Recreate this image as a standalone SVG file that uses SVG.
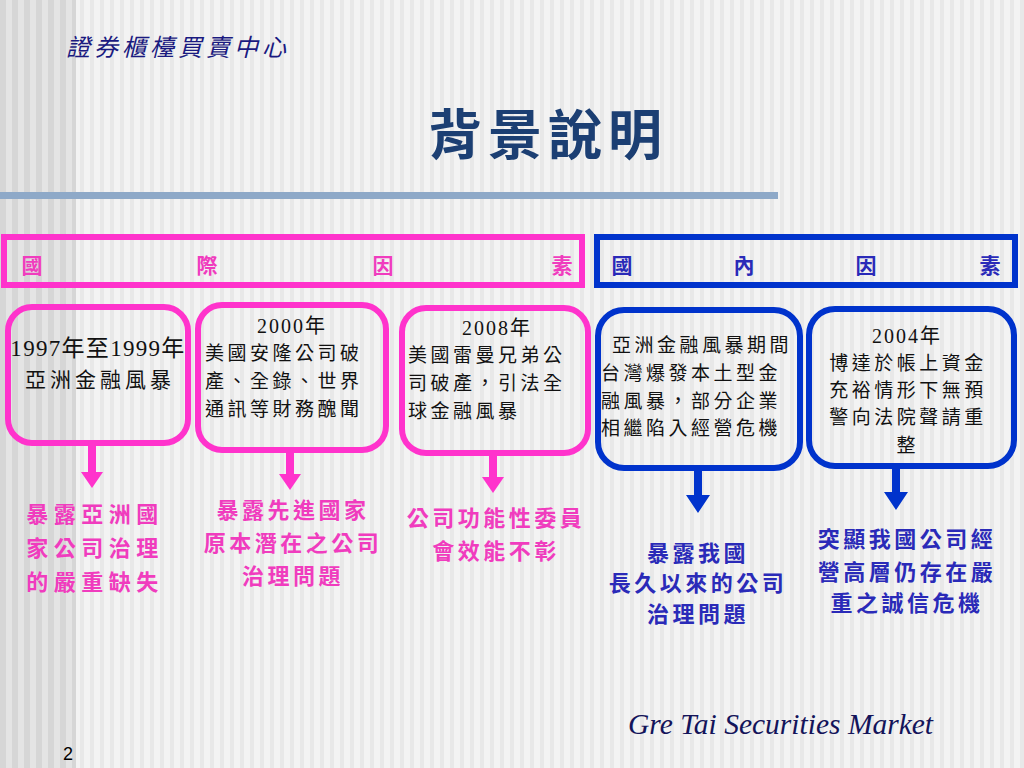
<svg xmlns="http://www.w3.org/2000/svg" width="1024" height="768" viewBox="0 0 1024 768">
<defs>
<pattern id="stripes" x="0" y="0" width="10" height="768" patternUnits="userSpaceOnUse">
<rect x="0" y="0" width="10" height="768" fill="#f3f3f3"/>
<rect x="0" y="0" width="4" height="768" fill="#e8e8e8"/>
</pattern>
<pattern id="stripesDark" x="0" y="0" width="12" height="768" patternUnits="userSpaceOnUse">
<rect x="0" y="0" width="12" height="768" fill="#e4e4e4"/>
<rect x="0" y="0" width="6" height="768" fill="#d6d6d6"/>
</pattern>
<style>
.cjk{font-family:"Liberation Serif","Noto Sans CJK TC",serif;fill:#111;font-size:19px}
.sp{letter-spacing:3.5px}
.yr{font-size:20px;letter-spacing:2px}
.res{font-family:"Noto Sans CJK TC",sans-serif;font-weight:bold;font-size:22px;letter-spacing:3.5px;text-anchor:middle}
.pinkT{fill:#f03cbe}
.blueT{fill:#2a2ab8}
.pinkBox{fill:none;stroke:#ff33cc;stroke-width:6}
.blueBox{fill:none;stroke:#0033cc;stroke-width:6}
.hdr{font-family:"Noto Sans CJK TC",sans-serif;font-weight:bold;font-size:21px;text-anchor:middle}
</style>
</defs>
<rect x="0" y="0" width="1024" height="768" fill="url(#stripes)"/>
<rect x="0" y="0" width="76" height="768" fill="url(#stripesDark)"/>
<text x="66" y="56" font-family="'Liberation Serif','Noto Sans CJK TC',serif" font-style="italic" font-size="24" fill="#1a1a80" letter-spacing="4">證券櫃檯買賣中心</text>
<text x="548" y="155" font-family="'Noto Sans CJK TC',sans-serif" font-weight="bold" font-size="54" fill="#1c3f73" text-anchor="middle" letter-spacing="6">背景說明</text>
<rect x="0" y="192" width="778" height="7" fill="#8ea9c8"/>
<g id="header-intl">
<rect x="4" y="237" width="578" height="48" class="pinkBox"/>
<text class="hdr pinkT" x="32" y="273">國</text>
<text class="hdr pinkT" x="207" y="273">際</text>
<text class="hdr pinkT" x="383" y="273">因</text>
<text class="hdr pinkT" x="562" y="273">素</text>
</g>
<g id="header-dom">
<rect x="597" y="237" width="418" height="48" class="blueBox"/>
<text class="hdr blueT" x="622" y="273">國</text>
<text class="hdr blueT" x="744" y="273">內</text>
<text class="hdr blueT" x="866" y="273">因</text>
<text class="hdr blueT" x="990" y="273">素</text>
</g>
<g id="node1">
<rect x="8" y="307" width="180" height="136" rx="24" class="pinkBox"/>
<text class="cjk" x="98" y="356" text-anchor="middle" style="font-size:23px;letter-spacing:1.3px">1997年至1999年</text>
<text class="cjk" x="100" y="387" text-anchor="middle" style="font-size:21px;letter-spacing:4px">亞洲金融風暴</text>
</g>
<g id="node2">
<rect x="198" y="305" width="188" height="145" rx="24" class="pinkBox"/>
<text class="cjk yr" x="292" y="333" text-anchor="middle">2000年</text>
<text class="cjk sp" x="205" y="360">美國安隆公司破</text>
<text class="cjk sp" x="205" y="388">產、全錄、世界</text>
<text class="cjk sp" x="205" y="416">通訊等財務醜聞</text>
</g>
<g id="node3">
<rect x="402" y="308" width="186" height="145" rx="24" class="pinkBox"/>
<text class="cjk yr" x="497" y="335" text-anchor="middle">2008年</text>
<text class="cjk sp" x="408" y="362">美國雷曼兄弟公</text>
<text class="cjk sp" x="408" y="390">司破產，引法全</text>
<text class="cjk sp" x="408" y="418">球金融風暴</text>
</g>
<g id="node4">
<rect x="598" y="310" width="202" height="158" rx="26" class="blueBox"/>
<text class="cjk sp" x="612" y="352">亞洲金融風暴期間</text>
<text class="cjk sp" x="601" y="380">台灣爆發本土型金</text>
<text class="cjk sp" x="601" y="408">融風暴，部分企業</text>
<text class="cjk sp" x="601" y="435">相繼陷入經營危機</text>
</g>
<g id="node5">
<rect x="809" y="309" width="205" height="157" rx="26" class="blueBox"/>
<text class="cjk yr" x="907" y="343" text-anchor="middle">2004年</text>
<text class="cjk sp" x="908" y="370" text-anchor="middle">博達於帳上資金</text>
<text class="cjk sp" x="908" y="397" text-anchor="middle">充裕情形下無預</text>
<text class="cjk sp" x="908" y="424" text-anchor="middle">警向法院聲請重</text>
<text class="cjk" x="906" y="452" text-anchor="middle">整</text>
</g>
<g id="connectors">
<path d="M88,446 H96 V472 H103 L92,488 L81,472 H88 Z" fill="#ff33cc"/>
<path d="M286,452 H294 V474 H301 L290,490 L279,474 H286 Z" fill="#ff33cc"/>
<path d="M489,455 H497 V477 H504 L493,493 L482,477 H489 Z" fill="#ff33cc"/>
<path d="M694,470 H702 V495 H710 L698,513 L686,495 H694 Z" fill="#0033cc"/>
<path d="M892,468 H900 V492 H908 L896,510 L884,492 H892 Z" fill="#0033cc"/>
</g>
<g id="result1">
<text class="res pinkT" x="95" y="522" style="letter-spacing:5.5px">暴露亞洲國</text>
<text class="res pinkT" x="95" y="556" style="letter-spacing:5.5px">家公司治理</text>
<text class="res pinkT" x="95" y="590" style="letter-spacing:5.5px">的嚴重缺失</text>
</g>
<g id="result2">
<text class="res pinkT" x="293" y="518">暴露先進國家</text>
<text class="res pinkT" x="293" y="551">原本潛在之公司</text>
<text class="res pinkT" x="293" y="584">治理問題</text>
</g>
<g id="result3">
<text class="res pinkT" x="496" y="526">公司功能性委員</text>
<text class="res pinkT" x="496" y="559">會效能不彰</text>
</g>
<g id="result4">
<text class="res blueT" x="698" y="561">暴露我國</text>
<text class="res blueT" x="698" y="591">長久以來的公司</text>
<text class="res blueT" x="698" y="622">治理問題</text>
</g>
<g id="result5">
<text class="res blueT" x="907" y="547">突顯我國公司經</text>
<text class="res blueT" x="907" y="580">營高層仍存在嚴</text>
<text class="res blueT" x="907" y="611">重之誠信危機</text>
</g>
<text x="628" y="734" font-family="'Liberation Serif',serif" font-style="italic" font-size="29.5" fill="#14145a">Gre Tai Securities Market</text>
<text x="63" y="760" font-family="'Liberation Sans',sans-serif" font-size="18" fill="#000">2</text>
</svg>
